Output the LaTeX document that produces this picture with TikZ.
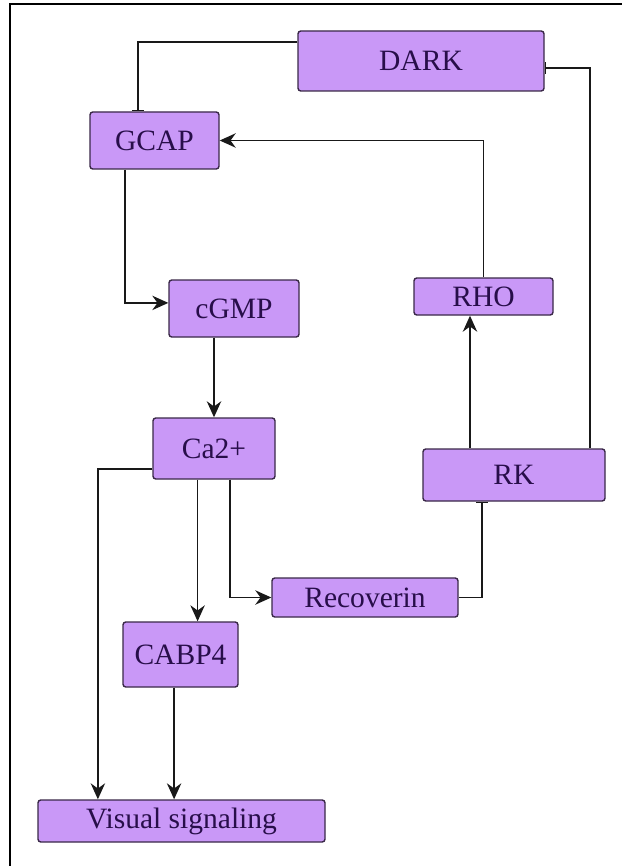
\documentclass[tikz,border=0pt]{standalone}
\usepackage{fontspec}
\setmainfont{Liberation Serif}
\newfontfamily\boxfont{Liberation Serif}
\usetikzlibrary{arrows.meta}

\definecolor{boxfill}{RGB}{201, 152, 247}
\definecolor{boxline}{RGB}{58, 40, 72}
\definecolor{boxtext}{RGB}{40, 14, 74}

\begin{document}
\begin{tikzpicture}[> = {Stealth[length = 4mm, width = 3.6mm, inset = 1.3mm]}, x = 0.025cm, y = -0.025cm,
	box/.style = {draw = boxline, line width = 1pt, fill = boxfill, rounded corners = 2pt, inner sep = 0pt, text = boxtext, font = \boxfont\fontsize{21}{24}\selectfont},
	act/.style = {->, line width = 1pt, black!90},
	inhib/.style = {-{Bar[width = 2.8mm]}, line width = 1pt, black!90}]

	% Canvas and frame

	\useasboundingbox (0, 0) rectangle (622, 866);
	\draw [line width = 1.6pt] (622, 4) -- (10, 4) -- (10, 866);

	% Nodes

	\node [box, minimum width = 246 * 0.025cm, minimum height = 60 * 0.025cm] (DARK) at (421, 61) {DARK};
	\node [box, minimum width = 129 * 0.025cm, minimum height = 57 * 0.025cm] (GCAP) at (154.5, 140.5) {GCAP};
	\node [box, minimum width = 130 * 0.025cm, minimum height = 57 * 0.025cm] (cGMP) at (234, 308.5) {cGMP};
	\node [box, minimum width = 139 * 0.025cm, minimum height = 37 * 0.025cm] (RHO) at (483.5, 296.5) {RHO};
	\node [box, minimum width = 122 * 0.025cm, minimum height = 61 * 0.025cm] (Ca) at (214, 448.5) {Ca2+};
	\node [box, minimum width = 182 * 0.025cm, minimum height = 52 * 0.025cm] (RK) at (514, 475) {RK};
	\node [box, minimum width = 186 * 0.025cm, minimum height = 39 * 0.025cm] (Rec) at (365, 597.5) {Recoverin};
	\node [box, minimum width = 115 * 0.025cm, minimum height = 65 * 0.025cm] (CABP) at (180.5, 654.5) {CABP4};
	\node [box, minimum width = 287 * 0.025cm, minimum height = 42 * 0.025cm] (Visual) at (181.5, 821) {Visual signaling};

	% Inhibitions

	\draw [inhib] ([yshift = 0.475cm] DARK.west) -| ([xshift = -0.41cm] GCAP.north);
	\draw [inhib] ([xshift = 1.9cm] RK.north) |- ([yshift = -0.175cm] DARK.east);
	\draw [inhib] (Rec.east) -| ([xshift = -0.8cm] RK.south);

	% Activations

	\draw [act] (RHO.north) |- (GCAP.east);
	\draw [act] ([xshift = -1.1cm] RK.north) -- ([xshift = -1.1cm] RK.north |- RHO.south);
	\draw [act] ([xshift = -0.74cm] GCAP.south) |- ([yshift = 0.14cm] cGMP.west);
	\draw [act] (Ca.north |- cGMP.south) -- (Ca.north);
	\draw [act] ([yshift = -0.51cm] Ca.west) -| ([xshift = -2.09cm] Visual.north);
	\draw [act] ([xshift = -0.41cm] Ca.south) -- ([xshift = -0.41cm] Ca.south |- CABP.north);
	\draw [act] ([xshift = 0.4cm] Ca.south) |- (Rec.west);
	\draw [act] ([xshift = -0.16cm] CABP.south) -- ([xshift = -0.16cm] CABP.south |- Visual.north);

\end{tikzpicture}
\end{document}
